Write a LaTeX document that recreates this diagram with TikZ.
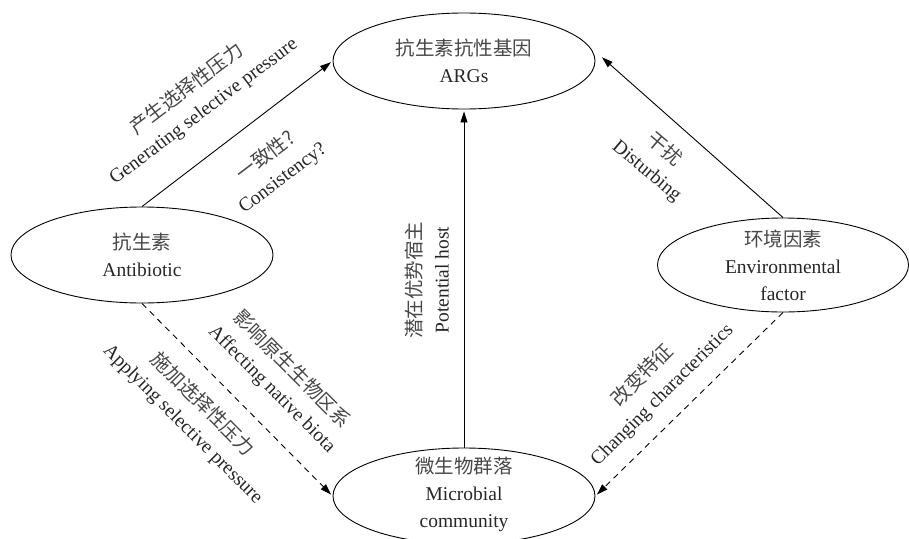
\documentclass[tikz,border=0pt]{standalone}
\usepackage{fontspec}
\setmainfont{Liberation Serif}
\newfontfamily\cjk{Noto Sans CJK SC}
\newcommand\zhtxt[1]{{\cjk\color{black!72}#1}}
\usetikzlibrary{arrows.meta,shapes.geometric}
\begin{document}
\begin{tikzpicture}[x=1pt,y=-1pt,
  font=\fontsize{19.5}{27}\selectfont,
  bubble/.style={ellipse,draw,line width=0.9pt,minimum width=262pt,minimum height=96pt,inner sep=0pt},
  txt/.style={align=center,inner sep=0pt,text=black!85},
  conn/.style={line width=0.9pt,-{Triangle[length=11pt,width=7pt]},shorten >=2pt},
  dconn/.style={conn,dash pattern=on 6pt off 5pt},
]
\useasboundingbox (0,0) rectangle (909,538);

% ellipses
\node[bubble] (args) at (464,61) {};
\node[bubble] (anti) at (142,255) {};
\node[bubble,minimum width=251pt,minimum height=94pt] (env) at (783,265) {};
\node[bubble] (micro) at (464,496) {};

\node[txt] (argsT) at (args) {\zhtxt{抗生素抗性基因}\\ARGs};
\node[txt] (antiT) at (anti) {\zhtxt{抗生素}\\Antibiotic};
\node[txt] (envT) at (env) {\zhtxt{环境因素}\\Environmental\\factor};
\node[txt] (microT) at ([yshift=2pt]micro.center) {\zhtxt{微生物群落}\\Microbial\\community};

% connectors
\draw[conn] (anti.north) -- (args.west);
\draw[conn] (micro.north) -- (args.south);
\draw[conn] (env.north) -- ([xshift=5pt,yshift=5pt]args.east);
\draw[dconn] (anti.south) -- (micro.west);
\draw[dconn] (env.south) -- (micro.east);

% labels
\node[txt,rotate=37] (lgen) at (195,100) {\zhtxt{产生选择性压力}\\Generating selective pressure};
\node[txt,rotate=37] (lcons) at (274,167) {\zhtxt{一致性?}\\Consistency?};
\node[txt,rotate=-40] (ldist) at (656,160) {\zhtxt{干扰}\\Disturbing};
\node[txt,rotate=90] (lhost) at (427,280) {\zhtxt{潜在优势宿主}\\Potential host};
\node[txt,rotate=-45] (laff) at (282,379) {\zhtxt{影响原生生物区系}\\Affecting native biota};
\node[txt,rotate=-45] (lapp) at (193,414) {\zhtxt{施加选择性压力}\\Applying selective pressure};
\node[txt,rotate=45] (lchg) at (652,385) {\zhtxt{改变特征}\\Changing characteristics};
\end{tikzpicture}
\end{document}
